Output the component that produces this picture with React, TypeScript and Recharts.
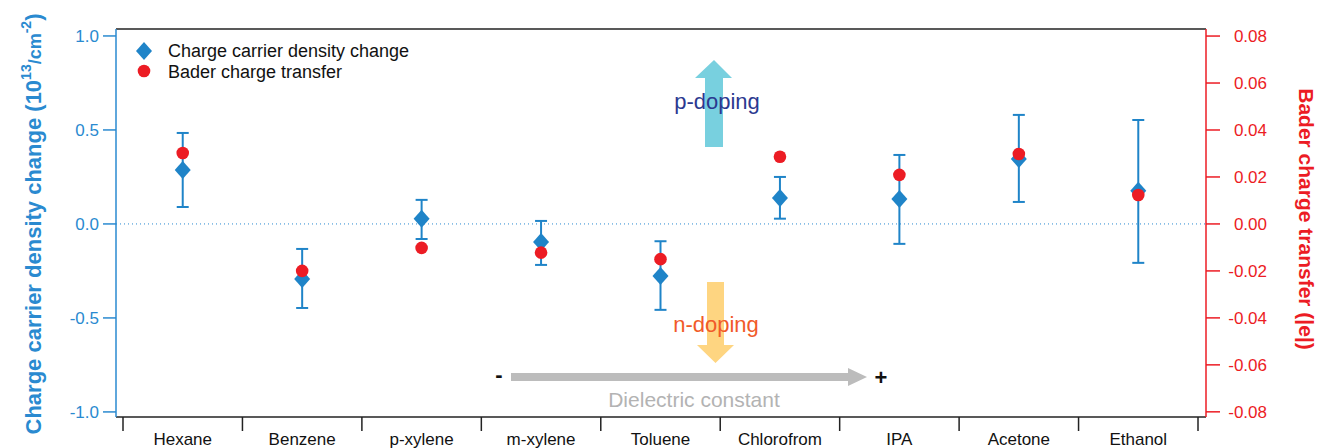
import {
  ScatterChart,
  Scatter,
  XAxis,
  YAxis,
  ErrorBar,
  ReferenceLine,
} from 'recharts';

const solvents = ['Hexane', 'Benzene', 'p-xylene', 'm-xylene', 'Toluene', 'Chlorofrom', 'IPA', 'Acetone', 'Ethanol'];
const densityChange = [0.287, -0.293, 0.027, -0.096, -0.277, 0.138, 0.133, 0.346, 0.176];
const densityLow = [0.09, -0.447, -0.08, -0.218, -0.457, 0.028, -0.106, 0.117, -0.207];
const densityHigh = [0.484, -0.133, 0.128, 0.016, -0.092, 0.25, 0.367, 0.58, 0.553];
const baderTransfer = [0.0302, -0.02, -0.0102, -0.0122, -0.015, 0.0286, 0.0209, 0.0298, 0.0123];

const leftTicks = [-1, -0.5, 0, 0.5, 1];
const rightTicks = [-0.08, -0.06, -0.04, -0.02, 0, 0.02, 0.04, 0.06, 0.08];
const bandTicks = [0, 1, 2, 3, 4, 5, 6, 7, 8, 9];

const BLUE = '#1f84c8';
const AXIS_BLUE = '#2a8ad0';
const RED = '#ec1c24';
const FONT = '"Liberation Sans", Arial, sans-serif';

const W = 1317;
const H = 448;
const PLOT_LEFT = 116;
const PLOT_RIGHT = 1206;
const PAD_L = 7;
const PAD_R = 8;
const BAND = (PLOT_RIGHT - PLOT_LEFT - PAD_L - PAD_R) / solvents.length;

const densityData = solvents.map((name, i) => ({
  name,
  x: i + 0.5,
  y: densityChange[i],
  err: [densityChange[i] - densityLow[i], densityHigh[i] - densityChange[i]],
}));

const baderData = solvents.map((name, i) => ({ name, x: i + 0.5, y: baderTransfer[i] }));

function Diamond(props: any) {
  const { cx, cy } = props;
  if (cx == null || cy == null) return null;
  return <polygon points={`${cx},${cy - 9} ${cx + 8},${cy} ${cx},${cy + 9} ${cx - 8},${cy}`} fill={BLUE} />;
}

function Dot(props: any) {
  const { cx, cy } = props;
  if (cx == null || cy == null) return null;
  return <circle cx={cx} cy={cy} r={6.3} fill={RED} />;
}

function CategoryTick(props: any) {
  const { x, payload } = props;
  if (payload.value >= solvents.length) return null;
  return (
    <text x={x + BAND / 2} y={445} textAnchor="middle" fontSize={17} fontFamily={FONT} fill="#111">
      {solvents[payload.value]}
    </text>
  );
}

function RightTick(props: any) {
  const { x, y, payload } = props;
  return (
    <text x={x + 40} y={y + 6} textAnchor="end" fontSize={17} fontFamily={FONT} fill={RED}>
      {Number(payload.value).toFixed(2)}
    </text>
  );
}

function Overlay() {
  return (
    <svg width={W} height={H} style={{ position: 'absolute', left: 0, top: 0, pointerEvents: 'none' }}>
      {/* legend */}
      <polygon points="144,42 152,51 144,60 136,51" fill={BLUE} />
      <text x={168} y={57} fontSize={18} fontFamily={FONT} fill="#111">Charge carrier density change</text>
      <circle cx={144} cy={71} r={6.3} fill={RED} />
      <text x={168} y={78} fontSize={18} fontFamily={FONT} fill="#111">Bader charge transfer</text>

      {/* axis titles */}
      <text
        transform="translate(41,224) rotate(-90)"
        textAnchor="middle"
        fontSize={22}
        fontWeight="bold"
        fontFamily={FONT}
        fill={AXIS_BLUE}
      >
        Charge carrier density change (10
        <tspan fontSize={14} dy={-10}>13</tspan>
        <tspan fontSize={18} dy={10}>/cm</tspan>
        <tspan fontSize={14} dy={-10}>-2</tspan>
        <tspan dy={10}>)</tspan>
      </text>
      <text
        transform="translate(1299,219) rotate(90)"
        textAnchor="middle"
        fontSize={21}
        fontWeight="bold"
        fontFamily={FONT}
        fill={RED}
      >
        Bader charge transfer (|e|)
      </text>

      {/* p-doping arrow */}
      <polygon points="705,147 723,147 723,78 732,78 714,60 695,78 705,78" fill="#78d0df" />
      <text x={717} y={109} textAnchor="middle" fontSize={22} fontFamily={FONT} fill="#2b3990">p-doping</text>

      {/* n-doping arrow */}
      <polygon points="707,282 724,282 724,345 734,345 715.5,363 697,345 707,345" fill="#fed581" />
      <text x={716} y={332} textAnchor="middle" fontSize={22} fontFamily={FONT} fill="#f15a29">n-doping</text>

      {/* dielectric constant arrow */}
      <polygon points="511,373 848,373 848,368 867,377 848,386 848,381 511,381" fill="#bcbcbc" />
      <text x={499} y={382} textAnchor="middle" fontSize={22} fontWeight="bold" fontFamily={FONT} fill="#111">-</text>
      <text x={881} y={385} textAnchor="middle" fontSize={22} fontWeight="bold" fontFamily={FONT} fill="#111">+</text>
      <text x={694} y={407} textAnchor="middle" fontSize={21} fontFamily={FONT} fill="#b3b3b3">Dielectric constant</text>
    </svg>
  );
}

export default function App() {
  return (
    <div style={{ position: 'absolute', left: 0, top: 0, width: W, height: H, background: '#fff' }}>
      <ScatterChart width={W} height={H} margin={{ top: 29, right: 0, bottom: 0, left: 0 }}>
        <XAxis
          dataKey="x"
          type="number"
          domain={[0, 9]}
          ticks={bandTicks}
          interval={0}
          padding={{ left: PAD_L, right: PAD_R }}
          height={31}
          tickSize={14}
          tick={<CategoryTick />}
          axisLine={{ stroke: '#222', strokeWidth: 1.5 }}
          tickLine={{ stroke: '#222', strokeWidth: 1.5 }}
        />
        <YAxis
          yAxisId="left"
          dataKey="y"
          type="number"
          domain={[-1.027, 1.037]}
          allowDataOverflow
          ticks={leftTicks}
          width={PLOT_LEFT}
          tickSize={13}
          tickMargin={4}
          tickFormatter={(v: number) => v.toFixed(1)}
          tick={{ fill: AXIS_BLUE, fontSize: 17, fontFamily: FONT }}
          axisLine={{ stroke: AXIS_BLUE, strokeWidth: 1.5 }}
          tickLine={{ stroke: AXIS_BLUE, strokeWidth: 1.5 }}
        />
        <YAxis
          yAxisId="right"
          orientation="right"
          dataKey="y"
          type="number"
          domain={[-0.0822, 0.083]}
          allowDataOverflow
          ticks={rightTicks}
          width={W - PLOT_RIGHT}
          tickSize={14}
          tickMargin={7}
          tick={<RightTick />}
          axisLine={{ stroke: RED, strokeWidth: 1.5 }}
          tickLine={{ stroke: RED, strokeWidth: 1.5 }}
        />
        <ReferenceLine yAxisId="left" y={0} stroke={AXIS_BLUE} strokeDasharray="1 3" strokeWidth={1} />
        <ReferenceLine yAxisId="left" y={1.037} stroke="#222" strokeWidth={1.5} ifOverflow="visible" />
        <Scatter
          name="Charge carrier density change"
          data={densityData}
          yAxisId="left"
          fill={BLUE}
          shape={<Diamond />}
          isAnimationActive={false}
        >
          <ErrorBar dataKey="err" direction="y" width={6} stroke={BLUE} strokeWidth={2} />
        </Scatter>
        <Scatter
          name="Bader charge transfer"
          data={baderData}
          yAxisId="right"
          fill={RED}
          shape={<Dot />}
          isAnimationActive={false}
        />
      </ScatterChart>
      <Overlay />
    </div>
  );
}
